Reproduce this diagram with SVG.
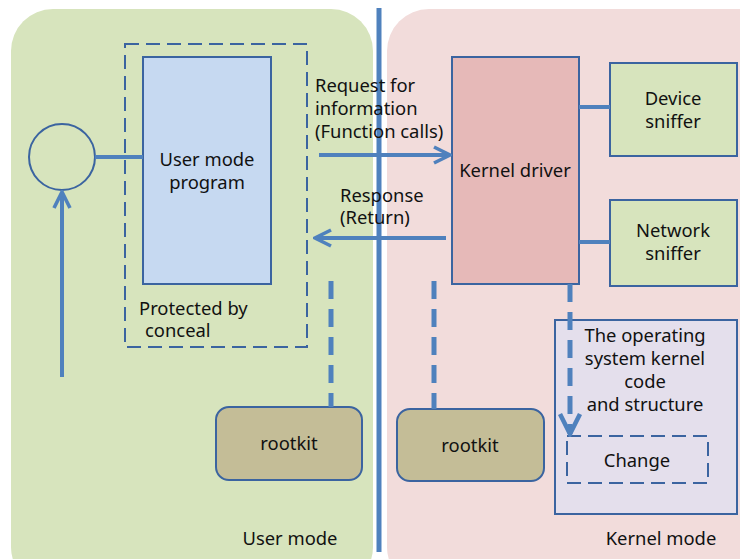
<svg xmlns="http://www.w3.org/2000/svg" width="740" height="559" viewBox="0 0 740 559">
<defs>
<style>
text{font-family:"Noto Sans","Open Sans","DejaVu Sans",sans-serif;font-size:18.4px;fill:#111}
.c{text-anchor:middle}
.box{stroke:#3b64a0;stroke-width:2}
.dash{fill:none;stroke:#3b64a0;stroke-width:2;stroke-dasharray:14 7}
.ln{stroke:#4f81bd;stroke-width:4;fill:none}
.dl{stroke:#4f81bd;stroke-width:5;fill:none;stroke-dasharray:18 10}
</style>
<marker id="ah" viewBox="0 0 10 10" refX="9" refY="5" markerWidth="5" markerHeight="5" markerUnits="strokeWidth" orient="auto">
<path d="M1,1 L9,5 L1,9" fill="none" stroke="#4f81bd" stroke-width="1.8"/>
</marker>
</defs>
<rect width="740" height="559" fill="#fff"/>
<g id="user-mode-region">
<rect x="11" y="9" width="362" height="580" rx="42" fill="#d7e4bd"/>
<text x="290" y="545" class="c">User mode</text>
</g>
<g id="kernel-mode-region">
<rect x="387" y="9" width="400" height="580" rx="42" fill="#f2dcdb"/>
<text x="661" y="545" class="c">Kernel mode</text>
</g>
<g id="protected">
<rect x="125" y="44" width="182" height="303" class="dash"/>
<text x="139" y="315">Protected by</text>
<text x="145" y="337">conceal</text>
</g>
<g id="circle-node">
<circle cx="62" cy="157" r="33" fill="none" stroke="#3b64a0" stroke-width="2"/>
</g>
<g id="user-program">
<rect x="143" y="57" width="128" height="227" fill="#c6d9f1" class="box"/>
<text x="207" y="166" class="c">User mode</text>
<text x="207" y="189" class="c">program</text>
</g>
<g id="kernel-driver">
<rect x="452" y="57" width="127" height="227" fill="#e6b9b8" class="box"/>
<text x="515" y="177" class="c">Kernel driver</text>
</g>
<g id="device-sniffer">
<rect x="610" y="63" width="127" height="93" fill="#d7e4bd" class="box"/>
<text x="673" y="105" class="c">Device</text>
<text x="673" y="128" class="c">sniffer</text>
</g>
<g id="network-sniffer">
<rect x="610" y="200" width="127" height="86" fill="#d7e4bd" class="box"/>
<text x="673" y="237" class="c">Network</text>
<text x="673" y="260" class="c">sniffer</text>
</g>
<g id="os-kernel">
<rect x="555" y="320" width="182" height="194" fill="#e4dfec" class="box"/>
<text x="645" y="342" class="c">The operating</text>
<text x="645" y="365" class="c">system kernel</text>
<text x="645" y="388" class="c">code</text>
<text x="645" y="411" class="c">and structure</text>
</g>
<g id="change">
<rect x="567" y="436" width="141" height="47" class="dash"/>
<text x="637" y="467" class="c">Change</text>
</g>
<g id="rootkit-user">
<rect x="216" y="407" width="146" height="73" rx="13" fill="#c4bd97" class="box"/>
<text x="289" y="450" class="c">rootkit</text>
</g>
<g id="rootkit-kernel">
<rect x="397" y="409" width="147" height="72" rx="13" fill="#c4bd97" class="box"/>
<text x="470" y="452" class="c">rootkit</text>
</g>
<g id="connectors">
<line x1="379" y1="8" x2="379" y2="552" stroke="#4f81bd" stroke-width="5"/>
<line x1="95" y1="157" x2="143" y2="157" class="ln"/>
<line x1="62" y1="377" x2="62" y2="192" class="ln" marker-end="url(#ah)"/>
<line x1="319" y1="155" x2="450" y2="155" class="ln" stroke-width="5" marker-end="url(#ah)"/>
<line x1="446" y1="238" x2="315" y2="238" class="ln" stroke-width="5" marker-end="url(#ah)"/>
<line x1="579" y1="107" x2="610" y2="107" class="ln"/>
<line x1="579" y1="242" x2="610" y2="242" class="ln"/>
<line x1="570" y1="284" x2="570" y2="434" class="dl" marker-end="url(#ah)"/>
<line x1="434" y1="281" x2="434" y2="409" class="dl"/>
<line x1="331" y1="281" x2="331" y2="407" class="dl"/>
</g>
<text x="315" y="92">Request for</text>
<text x="315" y="115">information</text>
<text x="315" y="138">(Function calls)</text>
<text x="340" y="202">Response</text>
<text x="340" y="224">(Return)</text>
</svg>
